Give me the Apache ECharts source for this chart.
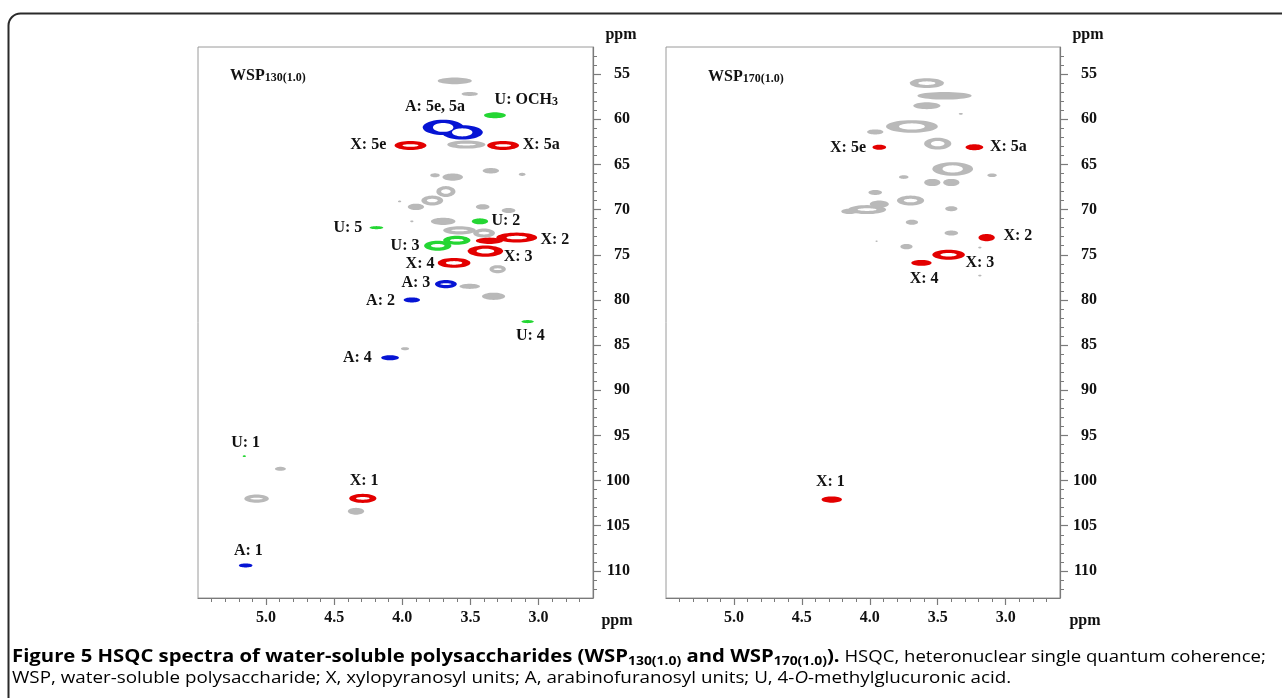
<!DOCTYPE html>
<html><head><meta charset="utf-8">
<script src="https://cdn.jsdelivr.net/npm/echarts@6/dist/echarts.min.js"></script>
<style>html,body{margin:0;padding:0;background:#fff}#c{width:1282px;height:698px}</style>
</head><body><div id="c"></div><script>
// ---------- DATA ----------
// peaks: [1H ppm, 13C ppm, half-width 1H (ppm), half-width 13C (ppm), class]
// class: X = xylopyranosyl (red), A = arabinofuranosyl (blue), U = 4-O-MeGlcA (green), o = other (grey)
const peaksLeft = [
  [3.615,55.75,0.125,0.37,'o'],[3.505,57.2,0.06,0.22,'o'],[3.53,62.8,0.14,0.45,'o'],
  [3.76,66.2,0.035,0.22,'o'],[3.63,66.4,0.075,0.4,'o'],[3.35,65.7,0.06,0.3,'o'],[3.12,66.1,0.025,0.17,'o'],
  [3.68,68.0,0.07,0.6,'o'],[3.78,69.0,0.08,0.55,'o'],[3.90,69.7,0.06,0.35,'o'],[4.02,69.1,0.012,0.1,'o'],
  [3.41,69.7,0.05,0.3,'o'],[3.22,70.1,0.05,0.28,'o'],[3.70,71.3,0.09,0.4,'o'],[3.93,71.3,0.012,0.1,'o'],
  [3.58,72.3,0.12,0.45,'o'],[3.40,72.6,0.08,0.5,'o'],[3.30,76.6,0.06,0.45,'o'],[3.505,78.5,0.075,0.28,'o'],
  [3.33,79.6,0.085,0.4,'o'],[3.98,85.4,0.03,0.17,'o'],[4.895,98.7,0.04,0.22,'o'],[5.07,102.0,0.09,0.45,'o'],
  [4.34,103.4,0.06,0.38,'o'],
  [3.32,59.56,0.08,0.33,'U'],[3.43,71.3,0.06,0.33,'U'],[4.19,72.0,0.05,0.17,'U'],
  [3.74,74.0,0.1,0.55,'U'],[3.60,73.4,0.1,0.5,'U'],[3.08,82.4,0.045,0.17,'U'],[5.16,97.3,0.012,0.1,'U'],
  [3.94,62.9,0.117,0.5,'X'],[3.26,62.9,0.117,0.5,'X'],[3.16,73.1,0.15,0.55,'X'],[3.36,73.45,0.1,0.35,'X'],
  [3.39,74.6,0.13,0.62,'X'],[3.62,75.9,0.12,0.55,'X'],[4.29,101.97,0.1,0.5,'X'],
  [3.70,60.9,0.15,0.85,'A'],[3.56,61.45,0.15,0.8,'A'],[3.68,78.25,0.08,0.45,'A'],
  [3.93,80.0,0.06,0.28,'A'],[4.09,86.4,0.065,0.28,'A'],[5.15,109.4,0.05,0.22,'A']
];
const peaksRight = [
  [3.58,56.0,0.125,0.55,'o'],[3.45,57.4,0.2,0.42,'o'],[3.58,58.5,0.1,0.38,'o'],[3.33,59.4,0.015,0.1,'o'],
  [3.69,60.8,0.19,0.7,'o'],[3.96,61.4,0.06,0.28,'o'],[3.50,62.7,0.1,0.65,'o'],[3.39,65.5,0.15,0.75,'o'],
  [3.10,66.2,0.035,0.2,'o'],[3.75,66.4,0.035,0.2,'o'],[3.54,67.0,0.06,0.4,'o'],[3.40,67.0,0.06,0.4,'o'],
  [3.96,68.1,0.05,0.28,'o'],[4.02,70.0,0.14,0.5,'o'],[3.70,69.0,0.1,0.55,'o'],[4.15,70.2,0.06,0.3,'o'],
  [3.93,69.4,0.07,0.4,'o'],[3.40,69.9,0.045,0.28,'o'],[3.69,71.4,0.045,0.28,'o'],[3.40,72.6,0.05,0.28,'o'],
  [3.19,74.2,0.012,0.1,'o'],[3.73,74.1,0.045,0.3,'o'],[3.19,77.3,0.012,0.1,'o'],[3.95,73.5,0.008,0.08,'o'],
  [3.93,63.1,0.05,0.28,'X'],[3.23,63.1,0.065,0.33,'X'],[3.14,73.1,0.06,0.4,'X'],
  [3.42,75.0,0.12,0.55,'X'],[3.62,75.9,0.075,0.33,'X'],[4.28,102.1,0.075,0.35,'X']
];
// labels: [1H ppm, 13C ppm, text]
const labelsLeft = [
  [3.76,58.6,'A: 5e, 5a'],[3.09,57.85,'U: OCH{s|3}'],[4.25,62.8,'X: 5e'],[2.98,62.8,'X: 5a'],
  [3.24,71.3,'U: 2'],[4.40,72.0,'U: 5'],[2.88,73.3,'X: 2'],[3.98,74.0,'U: 3'],[3.15,75.25,'X: 3'],
  [3.87,76.0,'X: 4'],[3.90,78.1,'A: 3'],[4.16,80.1,'A: 2'],[3.06,84.0,'U: 4'],[4.33,86.4,'A: 4'],
  [5.15,95.85,'U: 1'],[4.28,100.0,'X: 1'],[5.13,107.8,'A: 1']
];
const labelsRight = [
  [4.16,63.2,'X: 5e'],[2.98,63.1,'X: 5a'],[2.91,72.9,'X: 2'],[3.19,75.9,'X: 3'],
  [3.60,77.7,'X: 4'],[4.29,100.1,'X: 1']
];
const panelTitles = ['WSP{s|130(1.0)}', 'WSP{s|170(1.0)}'];
const xMajorTicks = [5.0, 4.5, 4.0, 3.5, 3.0];
const yMajorTicks = [55, 60, 65, 70, 75, 80, 85, 90, 95, 100, 105, 110];
const xRange = [2.6, 5.5];
const yRange = [52, 113];

// ---------- CHART ----------
const xMinorTicks = []; for (let i = 27; i <= 54; i++) xMinorTicks.push(i / 10);
const yMinorTicks = []; for (let i = 53; i <= 112; i++) yMinorTicks.push(i);
const COLORS = { o: '#b9b9b9', U: '#24d633', X: '#e30000', A: '#0614d4' };
const SERIF = '"Liberation Serif","DejaVu Serif",serif';
const grids = [
  { left: 198, top: 47, width: 395, height: 551 },
  { left: 666, top: 47, width: 394, height: 551 }
];
const xAxes = [], yAxes = [], series = [];
grids.forEach((g, gi) => {
  g.show = true; g.borderColor = '#9a9a9a'; g.borderWidth = 1;
  xAxes.push({
    type: 'value', gridIndex: gi, min: xRange[0], max: xRange[1], inverse: true, position: 'bottom',
    axisLine: { show: true, lineStyle: { color: '#7a7a7a', width: 1.2 } },
    axisTick: { show: true, customValues: xMajorTicks, length: 7, lineStyle: { color: '#7a7a7a', width: 1.2 } },
    axisLabel: { customValues: xMajorTicks, formatter: v => v.toFixed(1), margin: 12,
      color: '#111', fontFamily: SERIF, fontWeight: 'bold', fontSize: 16 },
    splitLine: { show: false }
  });
  xAxes.push({
    type: 'value', gridIndex: gi, min: xRange[0], max: xRange[1], inverse: true, position: 'bottom',
    axisLine: { show: false },
    axisTick: { show: true, customValues: xMinorTicks, length: 4, lineStyle: { color: '#7a7a7a', width: 1 } },
    axisLabel: { show: false }, splitLine: { show: false }
  });
  yAxes.push({
    type: 'value', gridIndex: gi, min: yRange[0], max: yRange[1], inverse: true, position: 'right',
    axisLine: { show: true, lineStyle: { color: '#7a7a7a', width: 1.2 } },
    axisTick: { show: true, customValues: yMajorTicks, length: 8, lineStyle: { color: '#7a7a7a', width: 1.2 } },
    axisLabel: { customValues: yMajorTicks, margin: 37, align: 'right',
      color: '#111', fontFamily: SERIF, fontWeight: 'bold', fontSize: 16 },
    splitLine: { show: false }
  });
  yAxes.push({
    type: 'value', gridIndex: gi, min: yRange[0], max: yRange[1], inverse: true, position: 'right',
    axisLine: { show: false },
    axisTick: { show: true, customValues: yMinorTicks, length: 4, lineStyle: { color: '#7a7a7a', width: 1 } },
    axisLabel: { show: false }, splitLine: { show: false }
  });
});

function ellipsePts(cx, cy, rx, ry) {
  const pts = [];
  for (let k = 0; k < 40; k++) {
    const t = k / 40 * Math.PI * 2;
    pts.push([cx + rx * Math.cos(t), cy + ry * Math.sin(t)]);
  }
  return pts;
}
function peakRenderer(color, inner) {
  return function (params, api) {
    const c = api.coord([api.value(0), api.value(1)]);
    const s = api.size([api.value(2), api.value(3)]);
    let rx = Math.abs(s[0]), ry = Math.abs(s[1]);
    if (inner) {
      rx = rx * 0.5; ry = ry - 3.2;
      if (ry < 0.7 || rx < 2.5) return null;
    }
    return { type: 'polygon', shape: { points: ellipsePts(c[0], c[1], rx, ry) },
      style: { fill: inner ? '#ffffff' : color } };
  };
}
const peakSets = [peaksLeft, peaksRight];
const labelSets = [labelsLeft, labelsRight];
let zc = 1;
peakSets.forEach((pk, gi) => {
  ['o', 'U', 'X', 'A'].forEach(cls => {
    const d = pk.filter(p => p[4] === cls).map(p => p.slice(0, 4));
    if (!d.length) return;
    [false, true].forEach(inner => {
      series.push({
        type: 'custom', xAxisIndex: gi * 2, yAxisIndex: gi * 2, data: d, z: zc++,
        renderItem: peakRenderer(COLORS[cls], inner), silent: true, animation: false
      });
    });
  });
  series.push({
    type: 'custom', xAxisIndex: gi * 2, yAxisIndex: gi * 2, z: 100, animation: false, silent: true,
    data: labelSets[gi].map(l => [l[0], l[1]]),
    renderItem: function (params, api) {
      const c = api.coord([api.value(0), api.value(1)]);
      return { type: 'text', x: c[0], y: c[1],
        style: { text: labelSets[gi][params.dataIndex][2], fill: '#111',
          font: 'bold 16px ' + SERIF, align: 'center', verticalAlign: 'middle',
          rich: { s: { fontSize: 12, fontWeight: 'bold', fontFamily: SERIF, verticalAlign: 'bottom' } } } };
    }
  });
});

const SANS = '"Open Sans",sans-serif';
const capBold = { fontFamily: SANS, fontWeight: 'bold', fontSize: 17.5, color: '#1b1b1b', lineHeight: 22, verticalAlign: 'middle' };
const capSub = { fontFamily: SANS, fontWeight: 'bold', fontSize: 12, color: '#1b1b1b', lineHeight: 12, verticalAlign: 'bottom' };
const capReg = { fontFamily: SANS, fontSize: 16, color: '#3c3c3c', lineHeight: 22, verticalAlign: 'middle' };
const capIt = Object.assign({}, capReg, { fontStyle: 'italic' });

const graphic = [
  { type: 'rect', shape: { x: 8.5, y: 13.5, width: 1300, height: 720, r: 12 },
    style: { fill: 'none', stroke: '#2a2a2a', lineWidth: 2 }, z: -10 },
  { type: 'text', left: 230, top: 68, style: { text: panelTitles[0], font: 'bold 16px ' + SERIF, fill: '#111',
    rich: { s: { fontSize: 12, fontWeight: 'bold', fontFamily: SERIF, fill: '#111', verticalAlign: 'bottom' } } } },
  { type: 'text', left: 708, top: 69, style: { text: panelTitles[1], font: 'bold 16px ' + SERIF, fill: '#111',
    rich: { s: { fontSize: 12, fontWeight: 'bold', fontFamily: SERIF, fill: '#111', verticalAlign: 'bottom' } } } },
  { type: 'text', x: 621, y: 35, style: { text: 'ppm', font: 'bold 16px ' + SERIF, fill: '#111', align: 'center', verticalAlign: 'middle' } },
  { type: 'text', x: 1088, y: 35, style: { text: 'ppm', font: 'bold 16px ' + SERIF, fill: '#111', align: 'center', verticalAlign: 'middle' } },
  { type: 'text', x: 617, y: 621, style: { text: 'ppm', font: 'bold 16px ' + SERIF, fill: '#111', align: 'center', verticalAlign: 'middle' } },
  { type: 'text', x: 1085, y: 621, style: { text: 'ppm', font: 'bold 16px ' + SERIF, fill: '#111', align: 'center', verticalAlign: 'middle' } },
  { type: 'text', x: 12, y: 646, scaleX: 1.16, style: {
      text: '{b|Figure 5 HSQC spectra of water-soluble polysaccharides (WSP}{s|130(1.0)}{b| and WSP}{s|170(1.0)}{b|).}{r| HSQC, heteronuclear single quantum coherence;}',
      rich: { b: capBold, s: capSub, r: capReg } } },
  { type: 'text', x: 12, y: 667, scaleX: 1.175, style: {
      text: '{r|WSP, water-soluble polysaccharide; X, xylopyranosyl units; A, arabinofuranosyl units; U, 4-}{i|O}{r|-methylglucuronic acid.}',
      rich: { r: capReg, i: capIt } } }
];

const chart = echarts.init(document.getElementById('c'), null, { renderer: 'canvas' });
chart.setOption({ animation: false, grid: grids, xAxis: xAxes, yAxis: yAxes, series: series, graphic: graphic });
</script></body></html>
